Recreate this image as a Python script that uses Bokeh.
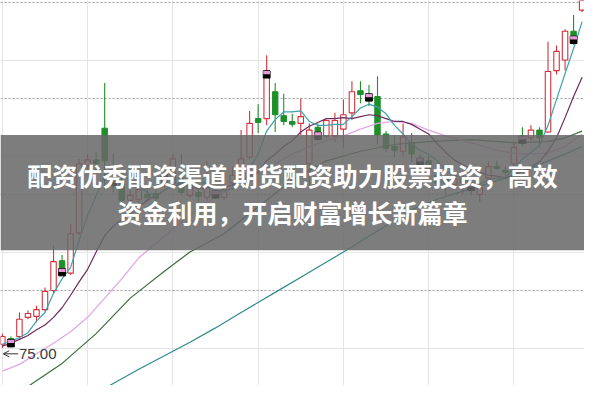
from bokeh.plotting import figure
from bokeh.models import Span, BoxAnnotation, Label, Arrow, OpenHead, Range1d
from bokeh.embed import file_html
from bokeh.resources import INLINE

# ---------------- data (prices) ----------------
idx = list(range(69))
opens = [75.20, 75.50, 75.60, 76.60, 76.65, 77.00, 78.00, 79.55, 78.90, 81.00,
         84.50, 84.80, 86.45, 83.85, 83.75, 82.70, 82.75, 83.00, 83.05, 83.60,
         83.60, 83.85, 82.95, 83.10, 82.85, 83.10, 82.85, 83.60, 84.10, 84.95,
         86.95, 86.95, 88.35, 87.10, 86.80, 86.70, 84.60, 86.50, 86.05, 86.05,
         86.40, 87.25, 88.40, 88.10, 88.10, 86.15, 85.50, 85.25, 85.70, 84.85,
         84.75, 84.00, 83.80, 83.50, 83.60, 83.45, 83.00, 83.85, 84.45, 84.25,
         84.60, 86.00, 85.95, 86.35, 86.25, 89.45, 90.00, 91.50, 92.60]
closes = [75.60, 75.25, 76.50, 76.80, 77.00, 77.95, 79.50, 79.15, 80.95, 84.60,
          84.80, 84.60, 84.75, 83.60, 82.70, 82.95, 83.25, 82.85, 82.80, 84.10,
          84.85, 83.10, 83.60, 82.90, 83.35, 82.90, 83.25, 84.00, 84.85, 86.70,
          86.75, 89.10, 87.15, 86.80, 86.65, 87.05, 86.35, 86.10, 86.85, 86.85,
          87.15, 88.35, 88.20, 87.90, 86.10, 85.40, 85.30, 86.00, 85.10, 84.70,
          84.35, 83.60, 83.60, 83.80, 83.80, 83.25, 83.35, 84.45, 84.35, 84.15,
          85.45, 85.75, 86.35, 85.95, 89.40, 90.45, 91.50, 91.25, 93.35]
highs = [75.75, 75.60, 76.85, 76.95, 77.20, 78.15, 80.35, 79.85, 81.45, 84.85,
         85.10, 85.20, 88.80, 85.10, 84.10, 83.20, 83.70, 83.35, 83.30, 84.50,
         85.10, 85.10, 83.85, 83.35, 84.75, 83.25, 83.60, 84.45, 86.35, 87.35,
         87.70, 90.25, 88.80, 88.25, 87.20, 88.00, 86.70, 86.70, 86.90, 87.25,
         87.95, 88.90, 88.90, 88.70, 89.15, 86.30, 86.10, 86.70, 86.20, 85.10,
         85.00, 84.35, 83.95, 84.10, 83.95, 83.85, 83.60, 84.70, 84.75, 84.45,
         85.75, 86.50, 86.60, 86.50, 90.95, 90.75, 91.60, 92.35, 93.60]
lows = [75.00, 75.10, 75.50, 76.50, 76.35, 76.90, 77.85, 78.95, 78.80, 80.90,
        84.30, 84.20, 83.25, 83.10, 82.35, 82.50, 82.35, 82.60, 82.60, 83.35,
        83.35, 82.95, 82.80, 82.60, 82.70, 82.75, 82.70, 83.25, 83.95, 84.85,
        86.20, 86.60, 86.25, 86.60, 86.50, 86.10, 83.45, 85.80, 85.95, 85.75,
        85.45, 86.90, 87.75, 87.60, 85.60, 85.20, 84.95, 85.00, 84.70, 84.45,
        84.10, 83.25, 82.95, 83.25, 83.00, 82.95, 82.60, 83.60, 84.30, 84.00,
        84.10, 85.50, 85.75, 85.50, 86.20, 89.25, 89.45, 90.80, 92.50]

ma5 = [75.20, 75.35, 75.55, 75.80, 76.40, 76.85, 77.85, 78.60, 79.20, 80.60,
       81.90, 82.95, 83.95, 84.45, 84.10, 83.70, 83.45, 83.10, 82.90, 83.20,
       83.55, 83.55, 83.70, 83.70, 83.55, 83.15, 83.20, 83.30, 83.65, 84.35,
       85.10, 86.30, 86.90, 87.30, 87.30, 87.35, 86.80, 86.60, 86.60, 86.65,
       86.65, 87.05, 87.50, 87.70, 87.55, 87.20, 86.60, 86.15, 85.60, 85.30,
       85.10, 84.75, 84.25, 84.00, 83.85, 83.60, 83.55, 83.75, 83.85, 83.90,
       84.35, 84.85, 85.20, 85.55, 86.60, 87.95, 89.30, 90.60, 92.00]
ma10 = [75.10, 75.25, 75.45, 75.65, 75.95, 76.20, 76.60, 77.10, 77.75, 78.45,
        79.10, 80.00, 80.85, 81.35, 81.70, 82.00, 82.35, 82.70, 82.95, 83.20,
        83.45, 83.50, 83.40, 83.30, 83.35, 83.35, 83.35, 83.50, 83.70, 83.95,
        84.15, 84.75, 85.10, 85.50, 85.80, 86.25, 86.55, 86.75, 86.95, 86.95,
        87.00, 86.95, 87.05, 87.15, 87.10, 86.95, 86.80, 86.80, 86.65, 86.40,
        86.15, 85.65, 85.20, 84.80, 84.55, 84.35, 84.15, 84.00, 83.95, 83.85,
        84.00, 84.20, 84.45, 84.70, 85.25, 85.95, 87.00, 88.10, 89.10]
ma20_idx = list(range(0, 69, 2))
ma20 = [73.80, 74.15, 74.70, 75.25, 75.85, 76.60, 77.60, 78.60, 79.70, 80.45,
        81.20, 81.90, 82.60, 83.10, 83.60, 84.10, 84.60, 85.10, 85.50, 85.80,
        86.05, 86.40, 86.70, 86.80, 86.70, 86.35, 86.05, 85.80, 85.55, 85.30,
        85.15, 85.10, 85.15, 85.50, 86.15]
ma30_idx = [0, 3, 7, 11, 15, 19, 22, 26, 30, 34, 38, 42, 46, 50, 55, 60, 64, 66, 68]
ma30 = [72.50, 73.00, 74.20, 75.75, 77.60, 79.00, 80.00, 80.95, 82.35, 83.75,
        84.75, 85.25, 85.60, 85.75, 85.85, 85.70, 85.75, 85.95, 86.30]
ma60_idx = [10, 13, 16, 19, 22, 25, 28, 32, 36, 40, 44, 48, 51, 55, 59, 63, 66, 68]
ma60 = [72.40, 73.15, 73.90, 74.60, 75.30, 76.05, 76.85, 77.90, 78.95, 80.00,
        81.10, 82.20, 82.75, 83.30, 83.85, 84.55, 85.10, 85.50]

marker_idx = [1, 7, 13, 19, 25, 31, 37, 43, 49, 55, 61, 67]
marker_price = [75.25, 78.95, 83.65, 84.05, 83.00, 89.25, 86.05, 88.05, 84.70, 83.40, 85.85, 91.05]

grid_prices = [78, 83, 88, 93]
title_lines = ["配资优秀配资渠道 期货配资助力股票投资，高效", "资金利用，开启财富增长新篇章"]
title_prices = [84.0, 82.1]

# ---------------- styles ----------------
RED = "#d4313b"
GREEN = "#1f8f2a"
X0, X1 = -0.22, 68.28
Y0, Y1 = 73.05, 93.1

p = figure(width=584, height=385, output_backend="svg", toolbar_location=None,
           x_range=Range1d(X0, X1), y_range=Range1d(Y0, Y1),
           min_border=0, x_axis_location=None, y_axis_location=None)
p.outline_line_color = None
p.background_fill_color = "white"
p.border_fill_color = "white"

for g in grid_prices:
    p.add_layout(Span(location=g, dimension="width", line_color="#9c9c9c",
                      line_dash="2 2", line_width=1, level="underlay"))

up = [i for i in idx if closes[i] >= opens[i]]
dn = [i for i in idx if closes[i] < opens[i]]

p.segment(x0=up, x1=up, y0=[lows[i] for i in up], y1=[highs[i] for i in up],
          line_color=RED, line_width=1.1)
p.segment(x0=dn, x1=dn, y0=[lows[i] for i in dn], y1=[highs[i] for i in dn],
          line_color=GREEN, line_width=1.1)
p.vbar(x=up, width=0.64, bottom=[opens[i] for i in up], top=[closes[i] for i in up],
       fill_color="white", line_color=RED, line_width=1.1)
p.vbar(x=dn, width=0.64, bottom=[closes[i] for i in dn], top=[opens[i] for i in dn],
       fill_color=GREEN, line_color=GREEN, line_width=1.0)

p.line(ma60_idx, ma60, line_color="#2f8a8c", line_width=1.2)
p.line(ma30_idx, ma30, line_color="#3b6f3b", line_width=1.2)
p.line(ma20_idx, ma20, line_color="#e3a6e6", line_width=1.3)
p.line(idx, ma10, line_color="#6c2b5e", line_width=1.2)
p.line(idx, ma5, line_color="#3aa3ad", line_width=1.2)

p.rect(x=marker_idx, y=marker_price, width=0.8, height=0.38,
       fill_color="black", line_color="black")
p.rect(x=marker_idx, y=[m + 0.1 for m in marker_price], width=0.8, height=0.17,
       fill_color="#e79ad8", line_color=None)

# lowest price marker
lo = min(lows)
li = lows.index(lo)
p.add_layout(Arrow(x_start=li + 1.85, y_start=lo - 0.3, x_end=li + 0.1, y_end=lo - 0.3,
                   line_color="#333333", line_width=1,
                   end=OpenHead(size=6, line_color="#333333", line_width=1)))
p.add_layout(Label(x=li + 1.95, y=lo - 0.3, text=f"{lo:.2f}", text_align="left",
                   text_baseline="middle", text_font="Liberation Sans",
                   text_font_size="15px", text_color="#3a3a3a"))

# banner
p.add_layout(BoxAnnotation(top=86.1, bottom=80.1, fill_color="#686868",
                           fill_alpha=0.86, line_color=None))
for t, y in zip(title_lines, title_prices):
    p.add_layout(Label(x=(X0 + X1) / 2, y=y, text=t, text_align="center",
                       text_baseline="middle", text_font="Noto Sans CJK SC",
                       text_font_style="bold", text_font_size="25px",
                       text_color="white"))

open("out.html", "w").write(file_html(p, INLINE))
